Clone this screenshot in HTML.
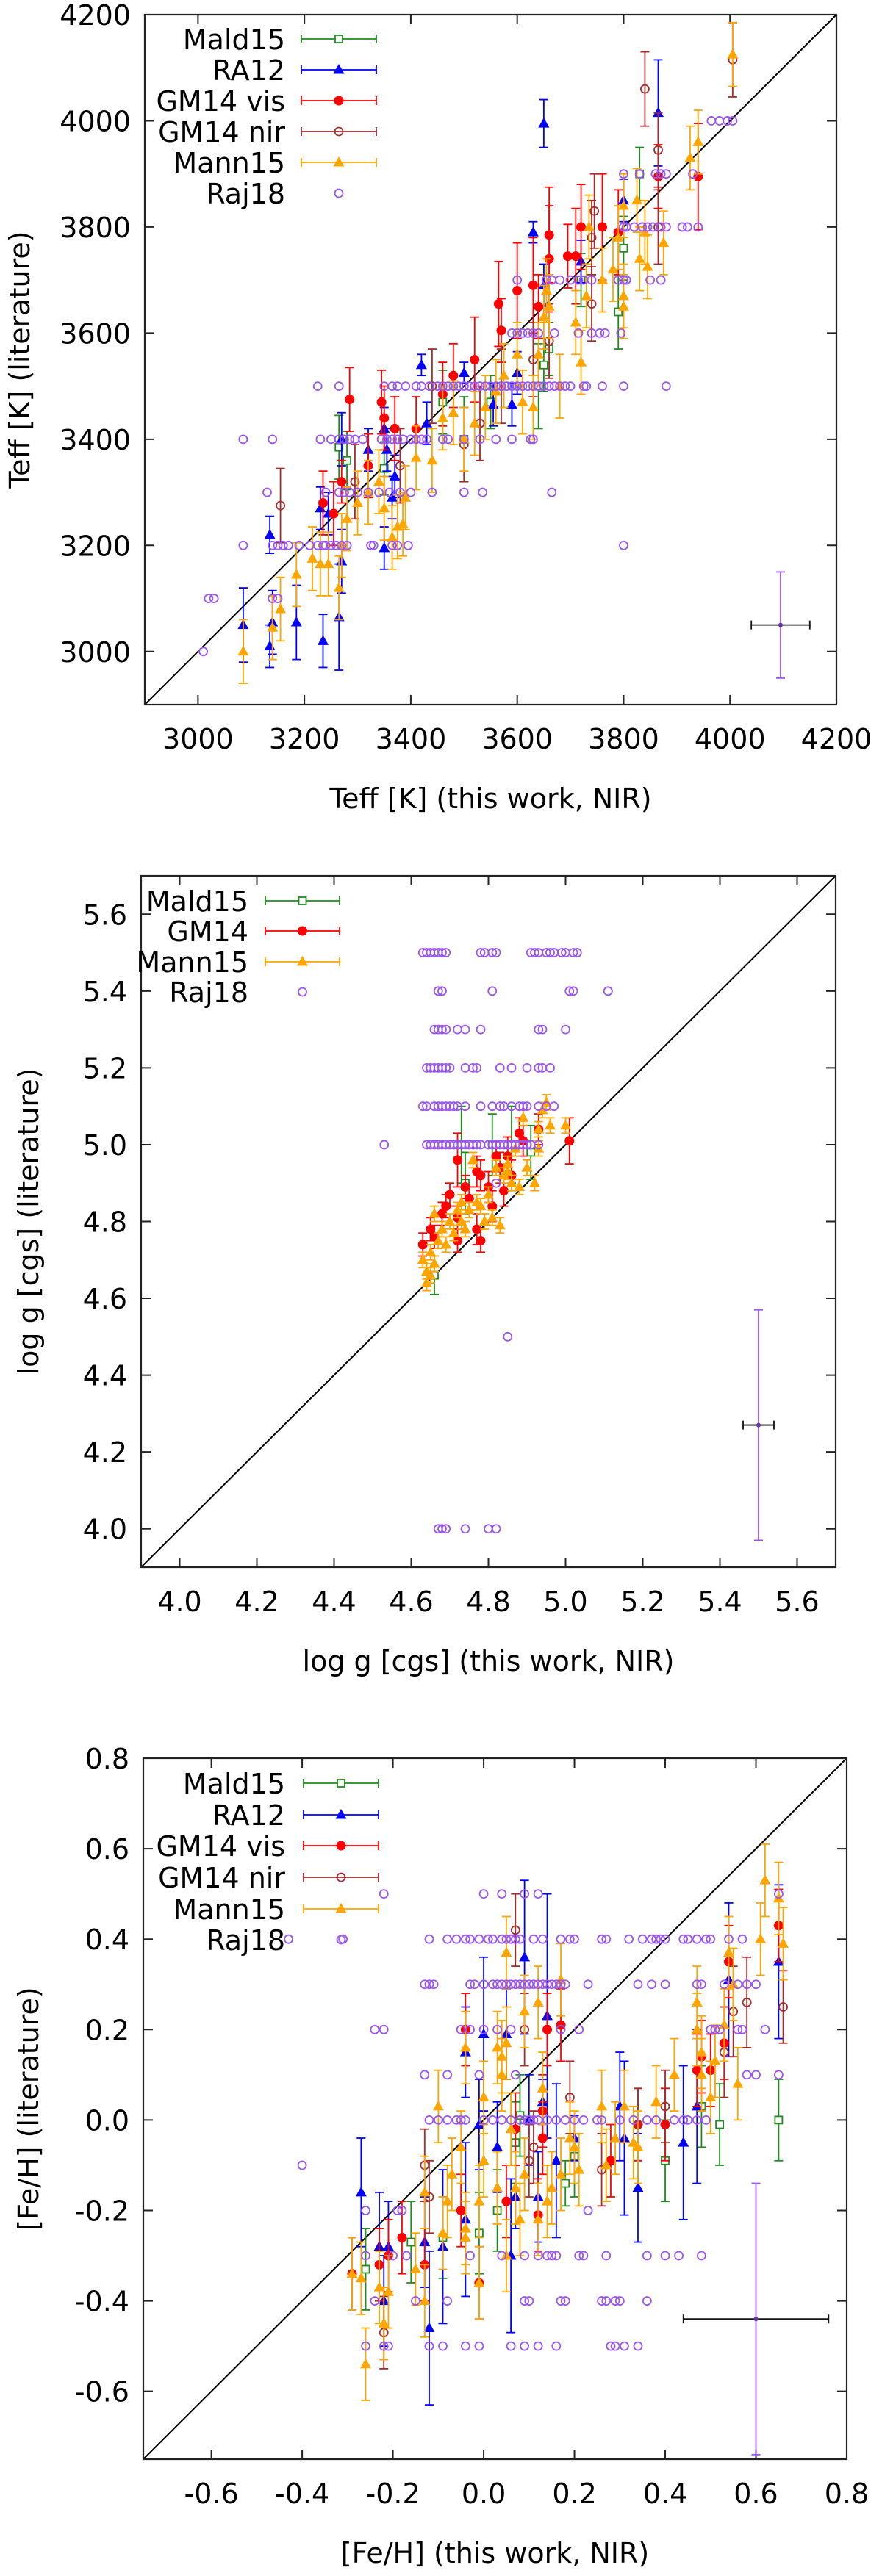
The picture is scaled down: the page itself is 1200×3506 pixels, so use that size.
<!DOCTYPE html>
<html><head><meta charset="utf-8">
<style>
html,body{margin:0;padding:0;background:#fff;}
svg{display:block;}
text{font-family:"DejaVu Sans","Liberation Sans",sans-serif;fill:#000;}
</style></head>
<body>
<svg id="fig" width="1200" height="3506" viewBox="0 0 1200 3506" xmlns="http://www.w3.org/2000/svg"></svg>
<script>
// ===================== PANEL 1: Teff =====================
const p1Ticks = [3000,3200,3400,3600,3800,4000,4200];
const p1TickLabels = ["3000","3200","3400","3600","3800","4000","4200"];
const p1MaldX = [3265,3280,3350,3460,3500,3550,3640,3650,3660,3720,3790,3800,3830];
const p1MaldY = [3385,3360,3345,3470,3400,3470,3500,3540,3570,3700,3640,3760,3900];
const p1MaldE = [60,55,50,60,80,50,80,50,50,50,70,60,50];
const p1RaX = [3085,3135,3140,3135,3185,3235,3265,3230,3245,3270,3270,3320,3350,3355,3350,3365,3370,3420,3430,3500,3555,3590,3600,3630,3650,3650,3720,3800,3865];
const p1RaY = [3050,3010,3055,3220,3055,3020,3065,3270,3260,3170,3400,3380,3420,3380,3195,3290,3330,3540,3430,3525,3465,3465,3525,3790,3995,3690,3735,3850,4015];
const p1RaE = [70,40,60,35,70,50,100,40,40,60,50,40,40,40,40,40,40,20,40,20,40,40,40,20,45,40,40,40,100];
const p1GvX = [3235,3255,3270,3285,3320,3345,3350,3370,3410,3460,3480,3520,3565,3570,3600,3630,3640,3660,3660,3695,3710,3720,3760,3790,3865,3940];
const p1GvY = [3280,3260,3320,3475,3350,3470,3440,3420,3420,3485,3520,3550,3655,3605,3680,3690,3650,3785,3740,3745,3745,3800,3800,3790,3895,3895];
const p1GvE = [60,60,40,60,60,60,60,60,60,60,60,80,80,60,90,90,60,90,100,60,90,80,100,80,60,100];
const p1GnX = [3155,3295,3380,3440,3500,3530,3570,3630,3660,3740,3745,3740,3840,3865,3865,4005];
const p1GnY = [3275,3320,3350,3500,3390,3430,3500,3550,3585,3780,3830,3655,4060,3945,3800,4115];
const p1GnE = [70,70,70,70,70,70,70,70,70,70,70,70,70,70,70,70];
const p1MannX = [3085,3140,3155,3185,3215,3230,3245,3265,3270,3280,3300,3320,3340,3350,3365,3375,3385,3390,3410,3440,3460,3480,3500,3520,3540,3560,3575,3600,3610,3630,3640,3650,3655,3660,3680,3710,3720,3730,3735,3760,3780,3790,3800,3800,3800,3825,3830,3840,3845,3875,3925,3940,4005];
const p1MannY = [3000,3045,3080,3145,3175,3165,3165,3120,3200,3250,3280,3300,3320,3270,3215,3235,3240,3290,3365,3360,3440,3450,3400,3430,3460,3490,3520,3560,3470,3460,3560,3630,3680,3650,3500,3620,3545,3670,3800,3700,3720,3780,3840,3670,3650,3850,3740,3790,3725,3770,3930,3960,4125];
const p1MannE = [60,60,60,60,60,60,60,60,60,60,60,60,60,60,60,60,60,60,60,60,60,60,60,60,60,60,60,60,60,60,60,60,60,60,60,60,60,60,60,60,60,60,60,60,60,60,60,60,60,60,60,60,60];
const p1RajLevels = [4000,3900,3800,3700,3600,3500,3400,3300,3200,3100,3000];
const p1RajXs = [
 [3965,3980,3995,4005],
 [3800,3830,3860,3870,3880,3930],
 [3800,3805,3820,3835,3845,3855,3870,3880,3910,3920,3940],
 [3600,3655,3665,3680,3700,3715,3725,3740,3790,3800,3805,3850,3870],
 [3590,3600,3610,3620,3630,3640,3670,3715,3740,3755,3765,3795],
 [3225,3265,3350,3365,3375,3390,3410,3420,3435,3450,3460,3470,3480,3490,3500,3510,3520,3530,3540,3550,3560,3570,3580,3590,3600,3610,3620,3630,3640,3650,3660,3670,3680,3690,3700,3725,3730,3760,3800,3880],
 [3085,3140,3230,3250,3265,3275,3285,3295,3310,3345,3355,3365,3375,3385,3400,3410,3420,3430,3460,3470,3500,3530,3560,3590,3625,3630],
 [3130,3240,3265,3275,3285,3300,3320,3340,3360,3380,3400,3440,3500,3535,3665],
 [3085,3140,3150,3160,3170,3190,3210,3225,3235,3240,3250,3260,3270,3280,3325,3330,3365,3375,3395,3800],
 [3020,3030,3140,3150],
 [3010]
];
const p1SampleX = [4095], p1SampleY = [3050], p1SampleXE = [55], p1SampleYE = [100];

// ===================== PANEL 2: log g =====================
const p2Ticks = [4.0,4.2,4.4,4.6,4.8,5.0,5.2,5.4,5.6];
const p2TickLabels = ["4.0","4.2","4.4","4.6","4.8","5.0","5.2","5.4","5.6"];
const p2MaldX = [4.66,4.73,4.74,4.81,4.86,4.91];
const p2MaldY = [4.66,5.0,4.90,5.0,5.0,4.98];
const p2MaldE = [0.05,0.1,0.08,0.08,0.1,0.07];
const p2GmX = [4.63,4.65,4.66,4.68,4.69,4.70,4.72,4.72,4.74,4.75,4.77,4.78,4.78,4.80,4.81,4.82,4.83,4.84,4.85,4.86,4.88,4.89,4.93,5.01,4.77,4.72];
const p2GmY = [4.74,4.78,4.76,4.82,4.84,4.87,4.96,4.75,4.89,4.86,4.93,4.75,4.92,4.89,4.84,4.97,4.94,4.88,4.97,4.92,5.03,5.01,5.04,5.01,4.78,4.81];
const p2GmE = [0.03,0.03,0.03,0.03,0.03,0.03,0.07,0.03,0.03,0.03,0.04,0.03,0.04,0.04,0.04,0.04,0.04,0.04,0.05,0.04,0.04,0.04,0.04,0.06,0.04,0.03];
const p2MannX = [4.63,4.64,4.64,4.65,4.65,4.66,4.66,4.67,4.68,4.69,4.70,4.71,4.72,4.73,4.73,4.74,4.75,4.76,4.77,4.78,4.79,4.80,4.81,4.82,4.83,4.84,4.85,4.86,4.87,4.88,4.89,4.90,4.92,4.93,4.94,4.95,4.96,5.00,4.93,4.85];
const p2MannY = [4.70,4.64,4.67,4.72,4.66,4.69,4.82,4.75,4.78,4.74,4.80,4.77,4.83,4.85,4.80,4.78,4.83,4.96,4.85,4.84,4.80,4.87,4.81,4.94,4.79,4.92,4.95,4.90,4.99,4.89,5.07,4.94,4.90,5.04,5.09,5.11,5.05,5.05,4.99,4.93];
const p2MannE = [0.02,0.02,0.02,0.02,0.02,0.02,0.02,0.02,0.02,0.02,0.02,0.02,0.02,0.02,0.02,0.02,0.02,0.02,0.02,0.02,0.02,0.02,0.02,0.02,0.02,0.02,0.02,0.02,0.02,0.02,0.02,0.02,0.02,0.02,0.02,0.02,0.02,0.02,0.02,0.02];
const p2RajLevels = [5.5,5.4,5.3,5.2,5.1,5.0,4.9,4.5,4.0];
const p2RajXs = [
 [4.63,4.64,4.65,4.66,4.67,4.68,4.69,4.78,4.79,4.81,4.82,4.91,4.92,4.93,4.95,4.96,4.97,4.99,5.0,5.02,5.03],
 [4.67,4.68,4.81,5.01,5.02,5.11],
 [4.66,4.67,4.68,4.69,4.72,4.74,4.78,4.93,4.94,5.0],
 [4.64,4.65,4.66,4.67,4.68,4.69,4.70,4.74,4.76,4.77,4.83,4.86,4.90,4.93,4.94,4.96],
 [4.63,4.64,4.66,4.67,4.68,4.69,4.70,4.71,4.72,4.74,4.78,4.81,4.83,4.84,4.86,4.88,4.89,4.90,4.93,4.95,4.97],
 [4.53,4.64,4.65,4.66,4.67,4.68,4.69,4.70,4.71,4.72,4.73,4.74,4.75,4.76,4.77,4.78,4.80,4.81,4.82,4.83,4.84,4.85,4.86,4.87,4.88,4.89,4.90,4.91,4.93],
 [4.82],
 [4.85],
 [4.67,4.68,4.69,4.74,4.80,4.82]
];
const p2SampleX = [5.5], p2SampleY = [4.27], p2SampleXE = [0.04], p2SampleYE = [0.3];

// ===================== PANEL 3: [Fe/H] =====================
const p3Ticks = [-0.6,-0.4,-0.2,0.0,0.2,0.4,0.6,0.8];
const p3TickLabels = ["-0.6","-0.4","-0.2","0.0","0.2","0.4","0.6","0.8"];
const p3MaldX = [-0.26,-0.16,-0.09,-0.01,0.03,0.07,0.08,0.18,0.2,0.4,0.48,0.52,0.65];
const p3MaldY = [-0.33,-0.27,-0.26,-0.25,-0.2,-0.05,0.01,-0.14,-0.08,-0.09,0.03,-0.01,0.0];
const p3MaldE = [0.09,0.09,0.09,0.09,0.09,0.09,0.09,0.05,0.09,0.09,0.09,0.09,0.09];
const p3RaX = [-0.27,-0.23,-0.22,-0.21,-0.13,-0.12,-0.09,-0.04,-0.04,0.0,-0.01,0.03,0.05,0.06,0.07,0.09,0.1,0.12,0.13,0.14,0.16,0.2,0.3,0.31,0.34,0.44,0.47,0.54,0.65];
const p3RaY = [-0.16,-0.28,-0.40,-0.28,-0.27,-0.46,-0.28,0.15,-0.22,0.19,-0.01,-0.06,0.19,-0.30,-0.17,0.36,0.0,-0.17,0.04,0.23,-0.09,-0.04,0.03,-0.04,-0.15,-0.05,0.03,0.31,0.35];
const p3RaE = [0.12,0.12,0.1,0.1,0.1,0.17,0.17,0.1,0.17,0.17,0.1,0.1,0.1,0.17,0.07,0.17,0.1,0.1,0.05,0.27,0.17,0.05,0.12,0.17,0.12,0.17,0.17,0.17,0.17];
const p3GvX = [-0.29,-0.23,-0.21,-0.18,-0.13,-0.05,-0.04,-0.01,0.05,0.07,0.12,0.13,0.13,0.14,0.17,0.28,0.34,0.4,0.47,0.48,0.5,0.53,0.54,0.65];
const p3GvY = [-0.34,-0.32,-0.3,-0.26,-0.32,-0.2,0.2,-0.36,-0.18,-0.02,-0.21,0.02,-0.04,0.2,0.21,-0.09,-0.01,-0.01,0.11,0.14,0.11,0.17,0.35,0.43];
const p3GvE = [0.08,0.08,0.08,0.08,0.08,0.08,0.08,0.08,0.08,0.08,0.08,0.08,0.08,0.08,0.08,0.08,0.08,0.08,0.08,0.08,0.08,0.08,0.08,0.08];
const p3GnX = [-0.22,-0.13,-0.12,0.07,0.09,0.1,0.11,0.19,0.26,0.34,0.4,0.53,0.55,0.58,0.66];
const p3GnY = [-0.47,-0.1,-0.17,0.42,0.2,-0.09,-0.06,0.05,-0.11,-0.01,0.03,0.15,0.24,0.26,0.25];
const p3GnE = [0.08,0.08,0.08,0.08,0.08,0.08,0.08,0.08,0.08,0.08,0.08,0.1,0.1,0.1,0.08];
const p3MannX = [-0.29,-0.27,-0.26,-0.23,-0.22,-0.21,-0.13,-0.13,-0.15,-0.1,-0.09,-0.08,-0.07,-0.05,-0.04,-0.04,-0.04,-0.01,0.0,-0.01,0.0,0.03,0.03,0.04,0.04,0.05,0.05,0.05,0.06,0.07,0.08,0.09,0.09,0.12,0.12,0.13,0.14,0.15,0.17,0.17,0.19,0.20,0.21,0.26,0.27,0.29,0.31,0.33,0.34,0.38,0.42,0.47,0.47,0.48,0.48,0.51,0.5,0.53,0.54,0.55,0.56,0.61,0.62,0.65,0.66];
const p3MannY = [-0.34,-0.35,-0.54,-0.37,-0.45,-0.38,-0.16,-0.40,-0.33,0.03,-0.25,-0.18,-0.12,-0.06,0.16,-0.26,-0.24,-0.36,0.05,-0.18,-0.09,0.16,-0.15,0.1,0.14,0.17,0.37,-0.30,-0.02,-0.15,-0.22,0.24,-0.12,0.26,-0.22,0.07,-0.18,-0.15,0.31,-0.12,-0.04,-0.06,-0.11,0.03,-0.1,-0.04,0.03,-0.05,-0.06,0.04,0.1,0.26,0.2,0.15,0.1,0.13,0.05,0.21,0.37,0.3,0.08,0.4,0.53,0.49,0.39];
const p3MannE = [0.08,0.08,0.08,0.08,0.08,0.08,0.08,0.08,0.08,0.08,0.08,0.08,0.08,0.08,0.08,0.08,0.08,0.08,0.08,0.08,0.08,0.08,0.08,0.08,0.08,0.08,0.08,0.08,0.08,0.08,0.08,0.08,0.08,0.08,0.08,0.08,0.08,0.08,0.08,0.08,0.08,0.08,0.08,0.08,0.08,0.08,0.08,0.08,0.08,0.08,0.08,0.08,0.08,0.08,0.08,0.08,0.08,0.08,0.08,0.08,0.08,0.08,0.08,0.08,0.08];
const p3RajLevels = [0.5,0.4,0.3,0.2,0.1,0.0,-0.1,-0.2,-0.3,-0.4,-0.5];
const p3RajXs = [
 [-0.22,0.0,0.04,0.09,0.12,0.65],
 [-0.43,-0.31,-0.12,-0.08,-0.06,-0.04,-0.03,-0.01,0.01,0.02,0.04,0.05,0.06,0.07,0.08,0.11,0.13,0.17,0.19,0.20,0.26,0.27,0.32,0.35,0.37,0.38,0.39,0.40,0.44,0.45,0.47,0.49,0.50,0.54,0.57],
 [-0.13,-0.12,-0.11,-0.03,-0.02,0.0,0.02,0.03,0.04,0.05,0.06,0.07,0.08,0.09,0.10,0.11,0.12,0.13,0.14,0.15,0.16,0.17,0.18,0.23,0.34,0.37,0.40,0.47,0.48,0.53,0.56,0.58,0.60],
 [-0.24,-0.22,-0.05,-0.03,0.0,0.03,0.06,0.17,0.21,0.5,0.51,0.52,0.56,0.57,0.62],
 [-0.13,-0.08,-0.01,0.07,0.58,0.60,0.65],
 [-0.12,-0.1,-0.08,-0.06,-0.05,-0.04,0.0,0.02,0.04,0.06,0.08,0.09,0.10,0.11,0.12,0.14,0.16,0.18,0.20,0.22,0.25,0.26,0.3,0.33,0.36,0.38,0.42,0.44,0.45,0.47,0.49],
 [-0.4],
 [-0.26,-0.19,-0.18,0.23],
 [-0.26,-0.2,-0.17,-0.03,0.04,0.09,0.12,0.14,0.15,0.16,0.21,0.22,0.27,0.36,0.4,0.43,0.48],
 [-0.24,-0.15,-0.08,0.09,0.1,0.17,0.18,0.26,0.27,0.29,0.30,0.36],
 [-0.26,-0.22,-0.21,-0.12,-0.09,-0.04,-0.01,0.06,0.09,0.12,0.16,0.28,0.29,0.31,0.34]
];
const p3SampleX = [0.6], p3SampleY = [-0.44], p3SampleXE = [0.16], p3SampleYE = [0.3];

// ===================== rendering =====================
const NS = "http://www.w3.org/2000/svg";
const svg = document.getElementById("fig");
const COL = {mald:"#1e8c1e", ra:"#0000ff", gv:"#ff0000", gn:"#a52a2a", mann:"#ffa500", raj:"#9955ee"};

function mk(tag, attrs, parent){
  const e = document.createElementNS(NS, tag);
  for (const k in attrs) e.setAttribute(k, attrs[k]);
  (parent||svg).appendChild(e);
  return e;
}
function marker(g, kind, cx, cy, color){
  let m;
  if (kind==="sq") m = mk("rect",{x:cx-5,y:cy-5,width:10,height:10,fill:"#fff",stroke:color,"stroke-width":1.8},g);
  else if (kind==="tri") m = mk("polygon",{points:`${cx},${cy-8} ${cx-7.5},${cy+5.5} ${cx+7.5},${cy+5.5}`,fill:color},g);
  else if (kind==="dot") m = mk("circle",{cx:cx,cy:cy,r:6.5,fill:color},g);
  else if (kind==="oc") m = mk("circle",{cx:cx,cy:cy,r:5.5,fill:"none",stroke:color,"stroke-width":1.8},g);
  return m;
}
function vbar(g, x, y1, y2, color){
  mk("line",{x1:x,y1:y1,x2:x,y2:y2,stroke:color,"stroke-width":1.8},g);
  mk("line",{x1:x-6,y1:y1,x2:x+6,y2:y1,stroke:color,"stroke-width":1.8},g);
  mk("line",{x1:x-6,y1:y2,x2:x+6,y2:y2,stroke:color,"stroke-width":1.8},g);
}

function panel(P){
  const {L,R,T,B,min,max} = P;
  const sx = v => L + (v-min)/(max-min)*(R-L);
  const sy = v => B - (v-min)/(max-min)*(B-T);
  const root = mk("g",{});
  
  

  // ticks
  const tg = mk("g",{},root);
  
  
  P.ticks.forEach((t,i)=>{
    const X = sx(t), Y = sy(t);
    mk("path",{d:`M${X},${B}v-13M${X},${T}v13M${L},${Y}h13M${R},${Y}h-13`,stroke:"#222","stroke-width":2},tg);
    const xl = mk("text",{x:X,y:B+60,"font-size":38,"text-anchor":"middle"},tg);
    xl.textContent = P.labels[i];
    
    
    if (Y >= T-1) {
      const yl = mk("text",{x:L-19,y:Y+14,"font-size":38,"text-anchor":"end"},tg);
      yl.textContent = P.labels[i];
      
      
    }
  });
  // diagonal
  const d = mk("line",{x1:L,y1:B,x2:R,y2:T,stroke:"#000","stroke-width":2},root);
  
  

  // series
  P.series.forEach(s=>{
    const g = mk("g",{},root);
    
    
    s.x.forEach((xv,i)=>{
      const X = sx(xv), Y = sy(s.y[i]);
      vbar(g, X, sy(s.y[i]-s.e[i]), sy(s.y[i]+s.e[i]), s.color);
      const m = marker(g, s.kind, X, Y, s.color);
      
      
    });
  });
  // Raj18
  const rg = mk("g",{},root);
  
  
  P.rajLevels.forEach((lv,i)=>{
    P.rajXs[i].forEach(xv=>{
      const m = marker(rg,"oc",sx(xv),sy(lv),COL.raj);
      
      
    });
  });
  // typical error sample
  const eg = mk("g",{},root);
  
  
  const SX = sx(P.sample[0]), SY = sy(P.sample[1]);
  vbar(eg, SX, sy(P.sample[1]-P.sample[3]), sy(P.sample[1]+P.sample[3]), COL.raj);
  const x1 = sx(P.sample[0]-P.sample[2]), x2 = sx(P.sample[0]+P.sample[2]);
  mk("path",{d:`M${x1},${SY}H${x2}M${x1},${SY-6}v12M${x2},${SY-6}v12`,stroke:"#111","stroke-width":1.8},eg);
  mk("circle",{cx:SX,cy:SY,r:3,fill:"#6633aa"},eg);

  // frame
  const fr = mk("rect",{x:L,y:T,width:R-L,height:B-T,fill:"none",stroke:"#222","stroke-width":2.2},root);
  
  

  // legend
  const lg = mk("g",{},root);
  
  
  P.legend.forEach((e,i)=>{
    const y = P.legY[i];
    const t = mk("text",{x:P.legTextR,y:y+14,"font-size":38,"text-anchor":"end"},lg);
    t.textContent = e.label;
    
    
    if (e.kind!=="oc") {
      mk("path",{d:`M${P.legL},${y}H${P.legR}M${P.legL},${y-6}v12M${P.legR},${y-6}v12`,stroke:e.color,"stroke-width":1.8},lg);
    }
    marker(lg, e.kind, (P.legL+P.legR)/2, y, e.color);
  });

  // axis titles
  const xt = mk("text",{x:(L+R)/2,y:B+141,"font-size":38,"text-anchor":"middle"},root);
  xt.textContent = P.xtitle;
  
  
  const ytx = P.ytX, yty = (T+B)/2;
  const yt = mk("text",{x:ytx,y:yty,"font-size":38,"text-anchor":"middle",transform:`rotate(-90 ${ytx} ${yty})`},root);
  yt.textContent = P.ytitle;
  
  
}

const legend6 = [
  {label:"Mald15",kind:"sq",color:COL.mald},
  {label:"RA12",kind:"tri",color:COL.ra},
  {label:"GM14 vis",kind:"dot",color:COL.gv},
  {label:"GM14 nir",kind:"oc",color:COL.gn,bar:true},
  {label:"Mann15",kind:"tri",color:COL.mann},
  {label:"Raj18",kind:"oc",color:COL.raj}
];
// GM14 nir legend has error bar line; patch kind marker
function legendFix(arr){ return arr.map(e=>e.bar?Object.assign({},e,{kind:"ocbar"}):e); }

panel({name:"teff-panel",L:197,R:1138,T:20,B:959,min:2900,max:4200,
  ticks:p1Ticks,labels:p1TickLabels,
  series:[
    {key:"mald15",x:p1MaldX,y:p1MaldY,e:p1MaldE,kind:"sq",color:COL.mald},
    {key:"ra12",x:p1RaX,y:p1RaY,e:p1RaE,kind:"tri",color:COL.ra},
    {key:"gm14-vis",x:p1GvX,y:p1GvY,e:p1GvE,kind:"dot",color:COL.gv},
    {key:"gm14-nir",x:p1GnX,y:p1GnY,e:p1GnE,kind:"oc",color:COL.gn},
    {key:"mann15",x:p1MannX,y:p1MannY,e:p1MannE,kind:"tri",color:COL.mann}],
  rajLevels:p1RajLevels,rajXs:p1RajXs,
  sample:[p1SampleX[0],p1SampleY[0],p1SampleXE[0],p1SampleYE[0]],
  legend:[],legY:[],legTextR:388,legL:410,legR:512,
  xtitle:"Teff [K] (this work, NIR)",ytitle:"Teff [K] (literature)",ytX:40});

panel({name:"logg-panel",L:192,R:1137,T:1192,B:2133,min:3.9,max:5.7,
  ticks:p2Ticks,labels:p2TickLabels,
  series:[
    {key:"mald15",x:p2MaldX,y:p2MaldY,e:p2MaldE,kind:"sq",color:COL.mald},
    {key:"gm14",x:p2GmX,y:p2GmY,e:p2GmE,kind:"dot",color:COL.gv},
    {key:"mann15",x:p2MannX,y:p2MannY,e:p2MannE,kind:"tri",color:COL.mann}],
  rajLevels:p2RajLevels,rajXs:p2RajXs,
  sample:[p2SampleX[0],p2SampleY[0],p2SampleXE[0],p2SampleYE[0]],
  legend:[],legY:[],legTextR:338,legL:361,legR:462,
  xtitle:"log g [cgs] (this work, NIR)",ytitle:"log g [cgs] (literature)",ytX:52});

panel({name:"feh-panel",L:195,R:1152,T:2393,B:3347,min:-0.75,max:0.8,
  ticks:p3Ticks,labels:p3TickLabels,
  series:[
    {key:"mald15",x:p3MaldX,y:p3MaldY,e:p3MaldE,kind:"sq",color:COL.mald},
    {key:"ra12",x:p3RaX,y:p3RaY,e:p3RaE,kind:"tri",color:COL.ra},
    {key:"gm14-vis",x:p3GvX,y:p3GvY,e:p3GvE,kind:"dot",color:COL.gv},
    {key:"gm14-nir",x:p3GnX,y:p3GnY,e:p3GnE,kind:"oc",color:COL.gn},
    {key:"mann15",x:p3MannX,y:p3MannY,e:p3MannE,kind:"tri",color:COL.mann}],
  rajLevels:p3RajLevels,rajXs:p3RajXs,
  sample:[p3SampleX[0],p3SampleY[0],p3SampleXE[0],p3SampleYE[0]],
  legend:[],legY:[],legTextR:388,legL:413,legR:515,
  xtitle:"[Fe/H] (this work, NIR)",ytitle:"[Fe/H] (literature)",ytX:52});

// legends drawn separately (on top)
function drawLegend(entries, ys, textR, l, r){
  const lg = mk("g",{});
  
  
  entries.forEach((e,i)=>{
    const y = ys[i];
    const t = mk("text",{x:textR,y:y+14,"font-size":38,"text-anchor":"end"},lg);
    t.textContent = e.label;
    
    
    if (e.label!=="Raj18") {
      mk("path",{d:`M${l},${y}H${r}M${l},${y-6}v12M${r},${y-6}v12`,stroke:e.color,"stroke-width":1.8},lg);
    }
    marker(lg, e.kind, (l+r)/2, y, e.color);
  });
}
drawLegend(legend6,[53,95,137,179,221,263],388,410,512);
drawLegend([
  {label:"Mald15",kind:"sq",color:COL.mald},
  {label:"GM14",kind:"dot",color:COL.gv},
  {label:"Mann15",kind:"tri",color:COL.mann},
  {label:"Raj18",kind:"oc",color:COL.raj}],[1226,1267,1309,1350],338,361,462);
drawLegend(legend6,[2427,2470,2512,2555,2598,2640],388,413,515);
</script>
</body></html>
